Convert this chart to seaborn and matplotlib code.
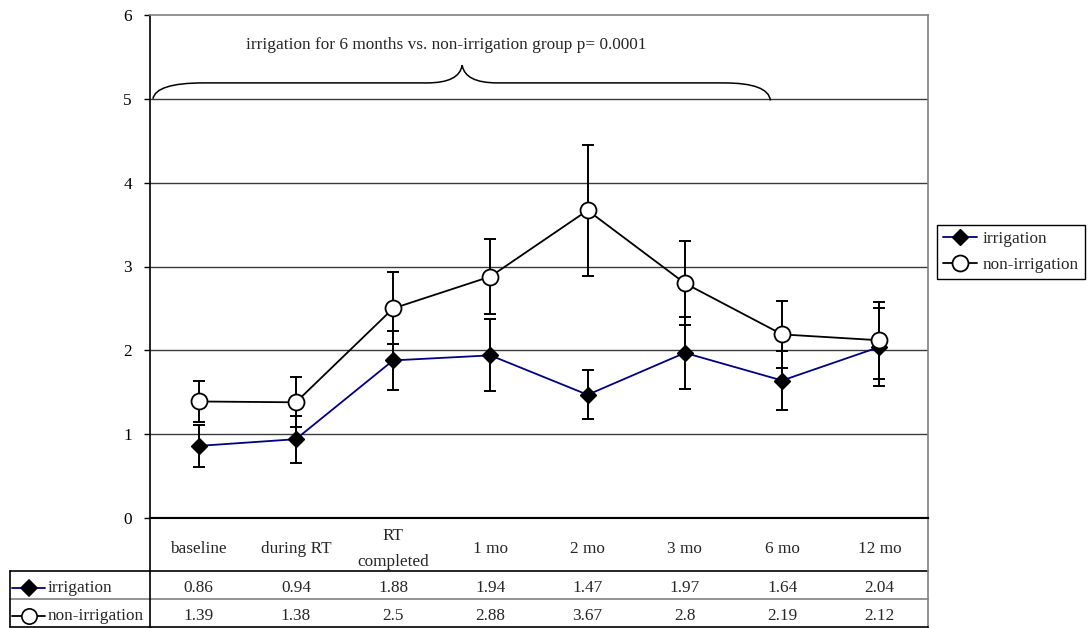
import numpy as np
import pandas as pd
import seaborn as sns
import matplotlib.pyplot as plt
from matplotlib.path import Path
from matplotlib.patches import PathPatch
from matplotlib.lines import Line2D
from matplotlib import transforms

categories = ["baseline", "during RT", "RT\ncompleted", "1 mo", "2 mo", "3 mo", "6 mo", "12 mo"]
irrigation = [0.86, 0.94, 1.88, 1.94, 1.47, 1.97, 1.64, 2.04]
irrigation_sd = [0.25, 0.28, 0.35, 0.43, 0.29, 0.43, 0.35, 0.47]
non_irrigation = [1.39, 1.38, 2.5, 2.88, 3.67, 2.8, 2.19, 2.12]
non_irrigation_sd = [0.24, 0.30, 0.43, 0.45, 0.78, 0.50, 0.40, 0.46]
note = "irrigation for 6 months vs. non-irrigation group p= 0.0001"

sns.set_style("white")
plt.rcParams['font.family'] = ['Liberation Serif', 'DejaVu Serif']
FS = 12.4
NAVY = "#000080"

W, H = 1091, 628
fig = plt.figure(figsize=(W / 100, H / 100), dpi=100)
ax = fig.add_axes([150 / W, 1 - 518 / H, 778 / W, 503 / H])
ax_t = fig.add_axes([150 / W, 1 / H, 778 / W, 109 / H])

x = np.arange(len(categories))
df = pd.DataFrame({"x": x, "irrigation": irrigation, "non": non_irrigation})

# gridlines
for yv in range(1, 6):
    ax.axhline(yv, color="#3a3a3a", linewidth=1, zorder=1)

# error bars (mean +/- sd)
for vals, sd in [(irrigation, irrigation_sd), (non_irrigation, non_irrigation_sd)]:
    ax.errorbar(x, vals, yerr=sd, fmt="none", ecolor="black", elinewidth=1.4,
                capsize=4, capthick=1.4, zorder=2)

sns.lineplot(data=df, x="x", y="irrigation", ax=ax, color=NAVY, linewidth=1.3,
             marker="D", markersize=8.5, markerfacecolor="black", markeredgecolor="black",
             markeredgewidth=1, label="irrigation", errorbar=None, zorder=3)
sns.lineplot(data=df, x="x", y="non", ax=ax, color="black", linewidth=1.3,
             marker="o", markersize=11.5, markerfacecolor="white", markeredgecolor="black",
             markeredgewidth=1.3, label="non-irrigation", errorbar=None, zorder=3)

ax.set_xlim(-0.5, len(categories) - 0.5)
ax.set_ylim(0, 6)
ax.set_yticks(range(7))
ax.set_xticks([])
ax.set_xlabel("")
ax.set_ylabel("")
ax.tick_params(axis="y", left=True, direction="out", length=4, width=1, pad=9,
               labelsize=FS, colors="black")
for s in ["top", "right"]:
    ax.spines[s].set_color("#808080")
    ax.spines[s].set_linewidth(1.2)
ax.spines["left"].set_color("black")
ax.spines["left"].set_linewidth(1.2)
ax.spines["bottom"].set_color("black")
ax.spines["bottom"].set_linewidth(1.5)

# brace + note
verts = [(-0.47, 5.0), (-0.44, 5.19), (0.05, 5.19), (2.35, 5.19), (2.68, 5.19), (2.71, 5.40),
         (2.74, 5.19), (3.07, 5.19), (5.40, 5.19), (5.86, 5.19), (5.88, 4.98)]
codes = [Path.MOVETO, Path.CURVE3, Path.CURVE3, Path.LINETO, Path.CURVE3, Path.CURVE3,
         Path.CURVE3, Path.CURVE3, Path.LINETO, Path.CURVE3, Path.CURVE3]
ax.add_patch(PathPatch(Path(verts, codes), fill=False, lw=1.1, color="black", zorder=4))
ax.text(2.55, 5.64, note, ha="center", va="center", fontsize=FS)

leg = ax.legend(loc="center left", bbox_to_anchor=(937 / W, 1 - 252 / H),
                bbox_transform=fig.transFigure, frameon=True, fancybox=False,
                edgecolor="black", framealpha=1, fontsize=FS, handlelength=2.0,
                borderpad=0.35, labelspacing=0.55, handletextpad=0.3, borderaxespad=0)
leg.get_frame().set_linewidth(1)

# data table
ax_t.set_xlim(-0.5, len(categories) - 0.5)
ax_t.set_ylim(0, 109)
ax_t.set_xticks([])
ax_t.set_yticks([])
for s in ax_t.spines.values():
    s.set_color("black")
    s.set_linewidth(1.2)
ax_t.spines["right"].set_color("#808080")
ax_t.spines["top"].set_linewidth(1.5)

bt = transforms.blended_transform_factory(ax_t.transAxes, ax_t.transData)
lx = (10 - 150) / 778
ax_t.plot([lx, 1], [56, 56], color="black", lw=1.2, transform=bt, clip_on=False)
ax_t.plot([lx, 1], [28, 28], color="#808080", lw=1.2, transform=bt, clip_on=False)
ax_t.plot([lx, 0], [0.3, 0.3], color="black", lw=1.2, transform=bt, clip_on=False)
ax_t.plot([lx, lx], [0, 56], color="black", lw=1.2, transform=bt, clip_on=False)

for i, c in enumerate(categories):
    ax_t.text(i, 78, c, ha="center", va="center", fontsize=FS, linespacing=1.75)
for vals, yc in [(irrigation, 39), (non_irrigation, 11)]:
    for i, v in enumerate(vals):
        ax_t.text(i, yc, f"{v:g}", ha="center", va="center", fontsize=FS)

rows = [("irrigation", 39, NAVY, "D", 8.5, "black"),
        ("non-irrigation", 11, "black", "o", 11, "white")]
for name, yc, col, mk, ms, fc in rows:
    ax_t.add_line(Line2D([(12 - 150) / 778, (45 - 150) / 778], [yc, yc], color=col, lw=1.3,
                         transform=bt, clip_on=False))
    ax_t.add_line(Line2D([(28.5 - 150) / 778], [yc], marker=mk, markersize=ms,
                         markerfacecolor=fc, markeredgecolor="black", markeredgewidth=1.2,
                         transform=bt, clip_on=False))
    ax_t.text((48 - 150) / 778, yc, name, ha="left", va="center", fontsize=FS,
              transform=bt)

fig.savefig("out.png", dpi=100)
